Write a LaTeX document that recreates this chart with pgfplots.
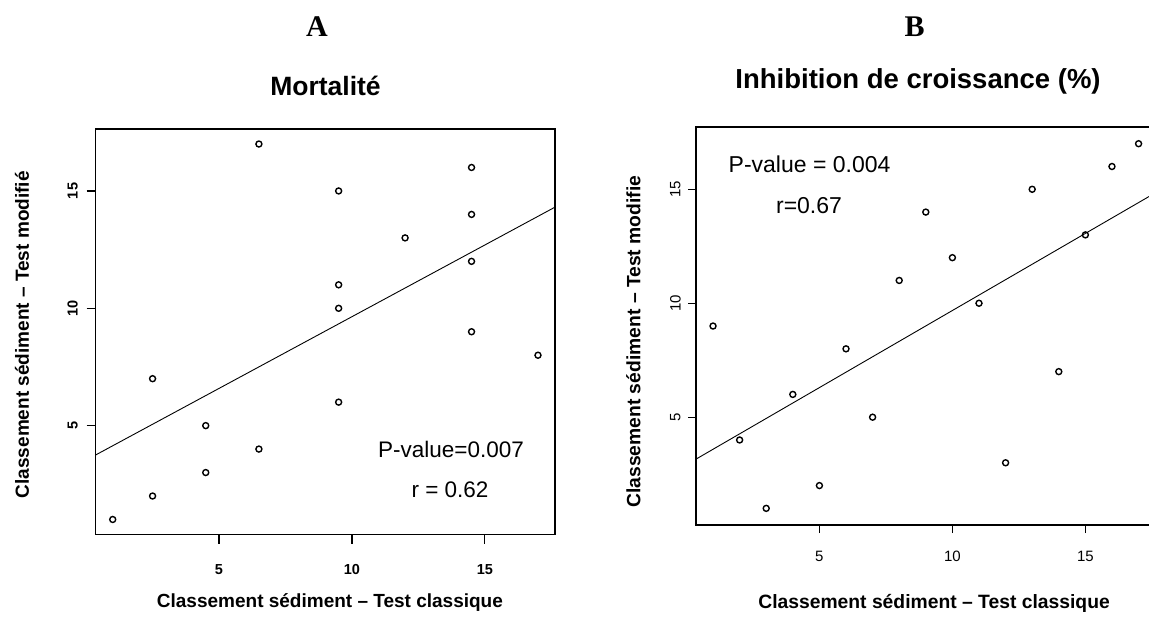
\documentclass[border=0pt]{standalone}
\usepackage{pgfplots}
\usepackage{pgfplotstable}
\pgfplotsset{compat=1.18}
\usepackage{fontspec}
\setmainfont{Liberation Sans}
\newfontfamily\serifbold{Liberation Serif}
\newcommand\fs[1]{\fontsize{#1pt}{#1pt}\selectfont}

\pgfplotstableread{
x y
1 1
2.5 7
2.5 2
4.5 5
4.5 3
6.5 17
6.5 4
9.5 15
9.5 11
9.5 10
9.5 6
12 13
14.5 16
14.5 14
14.5 12
14.5 9
17 8
}\dataA

\pgfplotstableread{
x y
1 9
2 4
3 1
4 6
5 2
6 8
7 5
8 11
9 14
10 12
11 10
12 3
13 15
14 7
15 13
16 16
17 17
}\dataB

\begin{document}
\begin{tikzpicture}[x=1pt,y=1pt]
% ---------------- Panel A ----------------
\begin{axis}[
  at={(95.7pt,87.5pt)}, anchor=south west,
  scale only axis, width=459.3pt, height=405.5pt,
  xmin=0.36, xmax=17.64, ymin=0.36, ymax=17.64,
  xtick={5,10,15}, ytick={5,10,15},
  xtick pos=bottom, ytick pos=left,
  tick align=outside, major tick length=9pt,
  tick style={black, line width=1.2pt},
  axis line style={black, line width=1.2pt},
  /pgf/number format/assume math mode=true,
  xticklabel style={font=\fs{14.5}\bfseries, anchor=center, yshift=-26.3pt},
  yticklabel style={font=\fs{14.5}\bfseries, xshift=-14pt, rotate=90, anchor=center},
  xlabel={Classement sédiment – Test classique},
  ylabel={Classement sédiment – Test modifié},
  xlabel style={font=\fs{19}\bfseries, at={(axis description cs:0.510,-0.1667)}, anchor=center},
  ylabel style={font=\fs{19}\bfseries, at={(axis description cs:-0.1605,0.4926)}, anchor=center, rotate=0},
  clip=true,
]
\addplot[only marks, mark=o, mark size=3pt, mark options={black, line width=1.4pt}] table[x=x,y=y]{\dataA};
\addplot[black, line width=0.9pt] coordinates {(0.36,3.75) (17.64,14.31)};
\node[font=\fs{22.5}] at (axis cs:13.73,3.98) {P-value=0.007};
\node[font=\fs{22.5}] at (axis cs:13.69,2.28) {r = 0.62};
\end{axis}

% ---------------- Panel B ----------------
\begin{axis}[
  at={(696pt,97pt)}, anchor=south west,
  scale only axis, width=459.6pt, height=397.7pt,
  xmin=0.36, xmax=17.64, ymin=0.27, ymax=17.72,
  xtick={5,10,15}, ytick={5,10,15},
  xtick pos=bottom, ytick pos=left,
  tick align=outside, major tick length=8pt,
  tick style={black, line width=1.2pt},
  axis line style={black, line width=2pt},
  /pgf/number format/assume math mode=true,
  xticklabel style={font=\fs{15}, anchor=center, yshift=-23pt},
  yticklabel style={font=\fs{15}, xshift=-12.6pt, rotate=90, anchor=center},
  xlabel={Classement sédiment – Test classique},
  ylabel={Classement sédiment – Test modifie},
  xlabel style={font=\fs{19.3}\bfseries, at={(axis description cs:0.518,-0.197)}, anchor=center},
  ylabel style={font=\fs{19.3}\bfseries, at={(axis description cs:-0.1364,0.461)}, anchor=center, rotate=0},
  clip=true,
]
\addplot[only marks, mark=o, mark size=3pt, mark options={black, line width=1.4pt}] table[x=x,y=y]{\dataB};
\addplot[black, line width=0.9pt] coordinates {(0.36,3.16) (17.64,14.85)};
\node[font=\fs{23}] at (axis cs:4.63,16.1) {P-value = 0.004};
\node[font=\fs{23}] at (axis cs:4.61,14.27) {r=0.67};
\end{axis}

% ---------------- Titles ----------------
\node[anchor=base, font=\fs{30}\serifbold\bfseries] at (317,585) {A};
\node[anchor=base, font=\fs{26.5}\bfseries] at (325.5,526.3) {Mortalité};
\node[anchor=base, font=\fs{30}\serifbold\bfseries] at (914.5,585.6) {B};
\node[anchor=base, font=\fs{27.5}\bfseries] at (918,533) {Inhibition de croissance (\%)};

\pgfresetboundingbox
\path[use as bounding box] (0,0) rectangle (1149,622);
\end{tikzpicture}
\end{document}
